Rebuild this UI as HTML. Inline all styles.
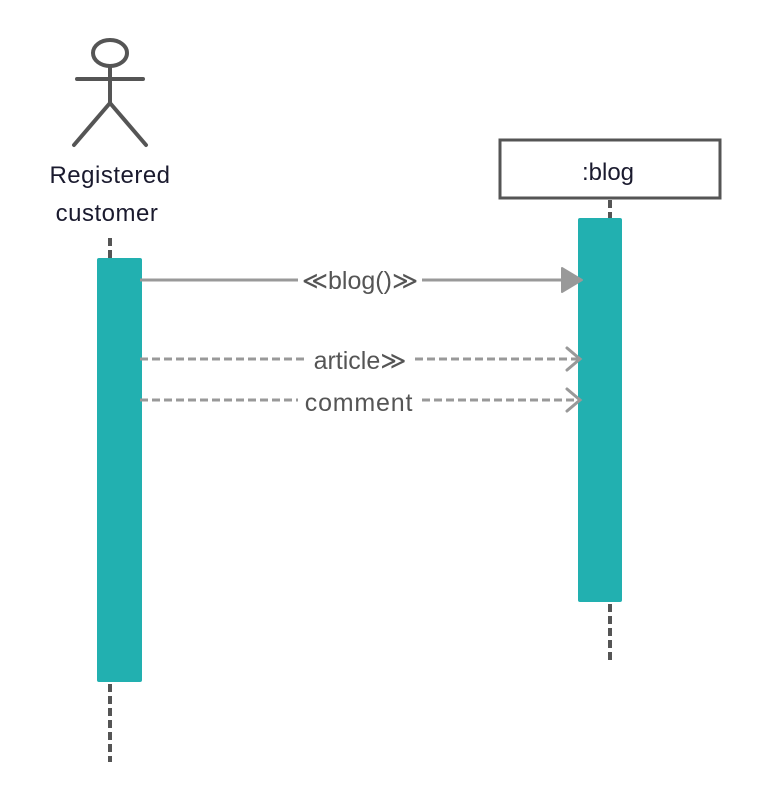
<!DOCTYPE html>
<html><head><style>body{margin:0;background:#fff}</style></head><body>
<svg width="760" height="800" xmlns="http://www.w3.org/2000/svg" font-family="Liberation Sans, sans-serif">
<rect width="760" height="800" fill="#fff"/>
<g stroke="#555" stroke-width="4" fill="none" stroke-linecap="round">
<ellipse cx="110" cy="53" rx="17" ry="13"/>
<line x1="110" y1="66" x2="110" y2="103"/>
<line x1="77" y1="79" x2="143" y2="79"/>
<line x1="110" y1="103" x2="74" y2="145"/>
<line x1="110" y1="103" x2="146" y2="145"/>
</g>
<text x="110" y="183" font-size="24" letter-spacing="0.5" text-anchor="middle" fill="#1a1a2e">Registered</text>
<text x="107" y="221" font-size="24" letter-spacing="0.5" text-anchor="middle" fill="#1a1a2e">customer</text>
<rect x="500" y="140" width="220" height="58" fill="#fff" stroke="#555" stroke-width="3"/>
<text x="608" y="180" font-size="24" text-anchor="middle" fill="#1a1a2e">:blog</text>
<g stroke="#555" stroke-width="4" stroke-dasharray="8,4">
<line x1="110" y1="238" x2="110" y2="258"/>
<line x1="110" y1="684" x2="110" y2="762"/>
<line x1="610" y1="200" x2="610" y2="218"/>
<line x1="610" y1="604" x2="610" y2="662"/>
</g>
<rect x="97" y="258" width="45" height="424" rx="2" fill="#22b0b0"/>
<rect x="578" y="218" width="44" height="384" rx="2" fill="#22b0b0"/>
<g stroke="#999" stroke-width="3">
<line x1="140" y1="280" x2="298" y2="280"/>
<line x1="422" y1="280" x2="565" y2="280"/>
<line x1="140" y1="359" x2="306" y2="359" stroke-dasharray="8,4"/>
<line x1="415" y1="359" x2="578" y2="359" stroke-dasharray="8,4"/>
<line x1="140" y1="400" x2="298" y2="400" stroke-dasharray="8,4"/>
<line x1="422" y1="400" x2="578" y2="400" stroke-dasharray="8,4"/>
</g>
<polygon points="562,268 582,280 562,292" fill="#999" stroke="#999" stroke-width="2" stroke-linejoin="round"/>
<g stroke="#999" stroke-width="3" fill="none" stroke-linecap="round">
<polyline points="567,348 580,359 567,370"/>
<polyline points="567,389 580,400 567,411"/>
</g>
<g font-size="25" fill="#555" text-anchor="middle">
<text x="360" y="289">≪blog()≫</text>
<text x="360" y="369">article≫</text>
<text x="359" y="411" letter-spacing="0.8">comment</text>
</g>
</svg>
</body></html>
